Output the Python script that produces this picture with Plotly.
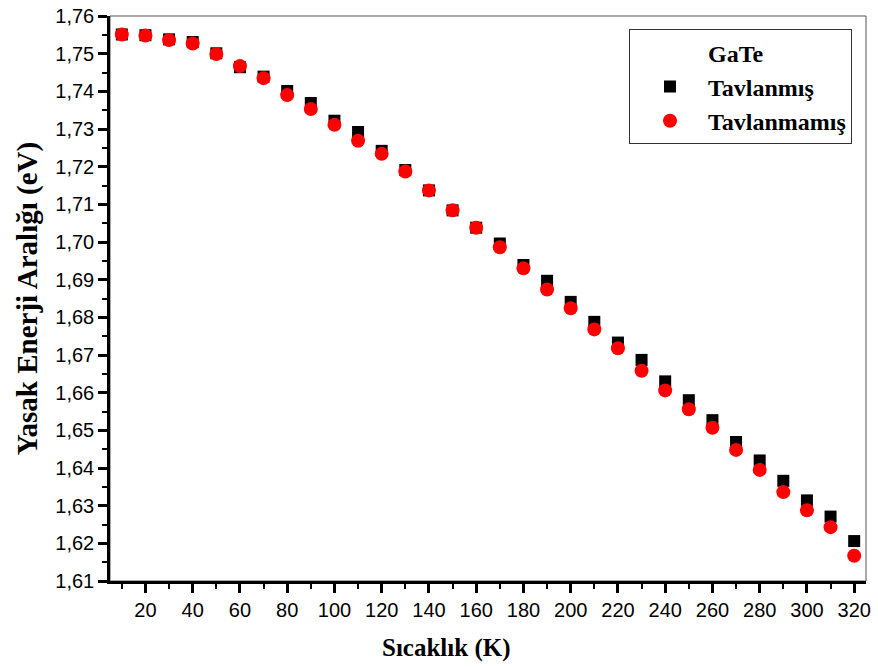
import plotly.graph_objects as go

# Temperature (K)
temperature = [10, 20, 30, 40, 50, 60, 70, 80, 90, 100, 110, 120, 130, 140, 150, 160,
               170, 180, 190, 200, 210, 220, 230, 240, 250, 260, 270, 280, 290, 300, 310, 320]

# Band gap (eV), annealed sample
gap_annealed = [1.7551, 1.7549, 1.7538, 1.7531, 1.7501, 1.7464, 1.7439, 1.7401, 1.7369, 1.7322,
                1.7292, 1.7242, 1.7191, 1.7137, 1.7084, 1.7038, 1.6996, 1.6939, 1.6897, 1.6841,
                1.6788, 1.6733, 1.6687, 1.6630, 1.6580, 1.6527, 1.6469, 1.6420, 1.6366, 1.6314,
                1.6271, 1.6206]

# Band gap (eV), as-grown sample
gap_unannealed = [1.7551, 1.7548, 1.7536, 1.7527, 1.7499, 1.7467, 1.7435, 1.7390, 1.7353, 1.7311,
                  1.7269, 1.7234, 1.7187, 1.7137, 1.7084, 1.7038, 1.6986, 1.6930, 1.6874, 1.6824,
                  1.6768, 1.6718, 1.6658, 1.6606, 1.6556, 1.6507, 1.6448, 1.6395, 1.6336, 1.6288,
                  1.6243, 1.6167]

series_names = ["Tavlanmış", "Tavlanmamış"]
legend_title = "GaTe"
x_title = "Sıcaklık (K)"
y_title = "Yasak Enerji Aralığı (eV)"

SERIF = "Liberation Serif"
SANS = "Liberation Sans"

fig = go.Figure()
# Heading row of the legend (sample name), no symbol and no data
fig.add_trace(go.Scatter(
    x=[None], y=[None], mode="markers", name=legend_title,
    marker=dict(color="rgba(0,0,0,0)", size=1, line=dict(width=0)), hoverinfo="skip",
))
fig.add_trace(go.Scatter(
    x=temperature, y=gap_annealed, mode="markers", name=series_names[0],
    marker=dict(symbol="square", size=12, color="black", line=dict(width=0)),
))
fig.add_trace(go.Scatter(
    x=temperature, y=gap_unannealed, mode="markers", name=series_names[1],
    marker=dict(symbol="circle", size=14, color="#ff0000", line=dict(width=0)),
))

axis_common = dict(
    showgrid=False, zeroline=False, automargin=False,
    showline=True, linecolor="black", linewidth=2.5,
    ticks="outside", ticklen=9, tickwidth=2.5, tickcolor="black",
    tickfont=dict(family=SANS, size=20, color="black"),
)

fig.update_xaxes(
    range=[5, 325], tick0=20, dtick=20,
    minor=dict(dtick=10, tick0=0, ticks="outside", ticklen=5, tickwidth=2, tickcolor="black"),
    **axis_common,
)
fig.update_yaxes(
    range=[1.61, 1.76], tick0=1.61, dtick=0.01, tickformat=".2f",
    minor=dict(dtick=0.005, tick0=1.61, ticks="outside", ticklen=5, tickwidth=2, tickcolor="black"),
    title=dict(text=y_title, font=dict(family=SERIF, size=29, color="black", weight="bold"),
               standoff=10),
    **axis_common,
)

# x-axis title, sitting slightly left of the plot centre
fig.add_annotation(
    text=x_title, xref="paper", yref="paper", x=0.445, y=-0.1186,
    xanchor="center", yanchor="middle", showarrow=False,
    font=dict(family=SERIF, size=25, color="black", weight="bold"),
)

# Thin frame on top and right edges of the plotting area
fig.add_shape(type="rect", xref="paper", yref="paper", x0=0, x1=1, y0=0, y1=1,
              line=dict(color="#555555", width=1), layer="below")

fig.update_layout(
    width=878, height=667,
    margin=dict(l=110, r=12, t=16, b=86),
    paper_bgcolor="white", plot_bgcolor="white",
    separators=",.",
    showlegend=True,
    legend=dict(
        x=0.9815, y=0.9765, xanchor="right", yanchor="top",
        bgcolor="white", bordercolor="#333333", borderwidth=1,
        font=dict(family=SERIF, size=24, color="black", weight="bold"),
        indentation=2, itemwidth=66, traceorder="normal",
    ),
)

fig.write_html("out.html")
